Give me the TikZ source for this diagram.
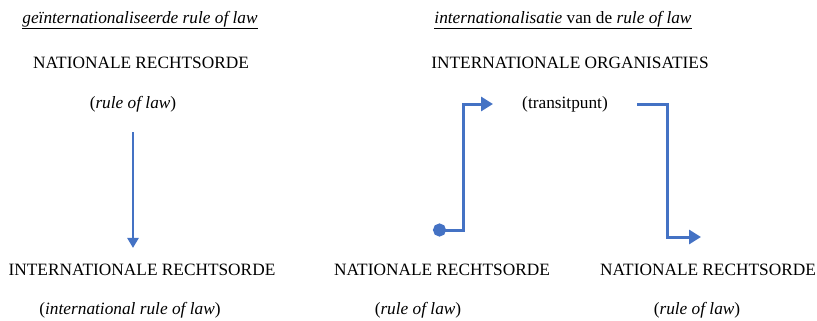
\documentclass[tikz,border=0pt]{standalone}
\usepackage{fontspec}
\setmainfont{Liberation Serif}
\usetikzlibrary{arrows.meta}

\definecolor{flowblue}{HTML}{4472C4}

\tikzset{
  lbl/.style = {inner sep = 0pt, font = \fontsize{17.3}{20}\selectfont},
  flow/.style = {draw = flowblue, line width = 3pt},
}

\begin{document}
\begin{tikzpicture}[x = 1pt, y = {(0pt, -1pt)}, > = {Triangle[length = 12pt, width = 14pt]}]

	\useasboundingbox (0, 0) rectangle (817, 321);

	% left part
	\node [lbl] (title1) at (140, 20) {\underline{\itshape geïnternationaliseerde rule of law}};
	\node [lbl] (nat1) at (141, 63) {NATIONALE RECHTSORDE};
	\node [lbl] (rol1) at (133, 104) {(\textit{rule of law})};
	\node [lbl] (intl) at (142, 270) {INTERNATIONALE RECHTSORDE};
	\node [lbl] (irol) at (130, 310) {(\textit{international rule of law})};

	\draw [flow, line width = 2.5pt, -{Triangle[length = 10pt, width = 11pt]}, shorten <= 20pt, shorten >= 16pt]
		(rol1.south) -- (rol1.south |- intl.north);

	% right part
	\node [lbl] (title2) at (563, 20) {\underline{\textit{internationalisatie} van de \textit{rule of law}}};
	\node [lbl] (org) at (570, 63) {INTERNATIONALE ORGANISATIES};
	\node [lbl] (transit) at (565, 104) {(transitpunt)};
	\node [lbl] (nat2) at (442, 270) {NATIONALE RECHTSORDE};
	\node [lbl] (rol2) at (418, 310) {(\textit{rule of law})};
	\node [lbl] (nat3) at (708, 270) {NATIONALE RECHTSORDE};
	\node [lbl] (rol3) at (697, 310) {(\textit{rule of law})};

	\coordinate (src) at (433, 230);
	\coordinate (up) at (463, 104);
	\coordinate (tin) at (493, 104);
	\coordinate (tout) at (637, 104);
	\coordinate (down) at (667, 237);
	\coordinate (dst) at (701, 237);

	\draw [flow, {Circle[length = 13pt]}->] (src) -| (up) -- (tin);
	\draw [flow, ->] (tout) -| (down) -- (dst);

\end{tikzpicture}
\end{document}
